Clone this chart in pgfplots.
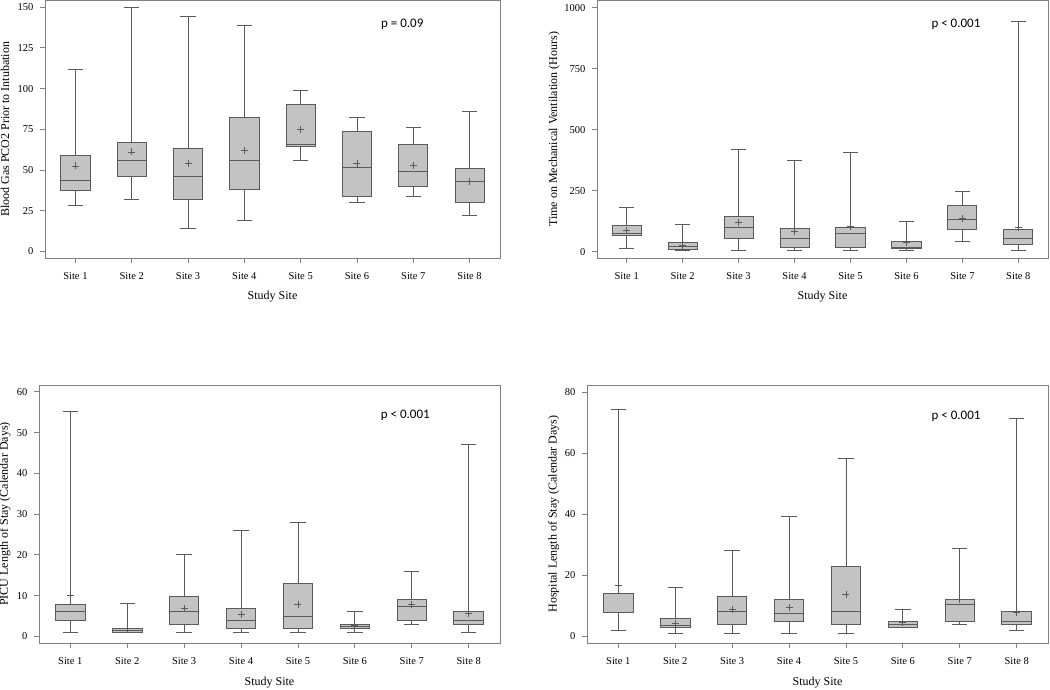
\documentclass[border=0pt]{standalone}
\usepackage{fontspec}
\setmainfont{Liberation Serif}
\newfontfamily\pfont{Carlito}
\usepackage{pgfplots}
\pgfplotsset{compat=1.18}
\usepgfplotslibrary{statistics}
\definecolor{boxfill}{HTML}{C3C3C3}
\definecolor{boxline}{HTML}{5A5A5A}
\definecolor{axline}{HTML}{808080}
\pgfplotsset{
  panel/.style={
    scale only axis, height=258pt,
    axis line style={axline, line width=0.9pt},
    tick style={axline, line width=0.9pt},
    tick align=outside, major tick length=5pt,
    xtick={1,2,3,4,5,6,7,8},
    xticklabels={Site 1,Site 2,Site 3,Site 4,Site 5,Site 6,Site 7,Site 8},
    xtick pos=bottom, ytick pos=left,
    tick label style={font=\fontsize{10.5}{12}\selectfont},
    xticklabel style={yshift=-6pt},
    yticklabel style={xshift=-3pt},
    label style={font=\fontsize{12}{14}\selectfont},
    xlabel={Study Site},
    /pgf/number format/assume math mode=true,
    /pgf/number format/1000 sep={},
    boxplot/draw direction=y,
    boxplot/box extend=0.52,
    boxplot/whisker extend=0.27,
    boxplot/every average/.style={/tikz/mark=+, /tikz/mark size=3.5pt, /tikz/line width=0.9pt},
  },
  bx/.style={draw=boxline, fill=boxfill, line width=0.9pt, solid},
}
\tikzset{pv/.style={anchor=west, font=\pfont\fontsize{13}{15}\selectfont}}
\begin{document}
\begin{tikzpicture}[x=1pt,y=1pt]
\useasboundingbox (0,0) rectangle (1050,690);
% Panel 1
\begin{axis}[panel, at={(45pt,432pt)}, anchor=south west, width=455pt, height=257.5pt,
  xmin=0.46, xmax=8.54, ymin=-4.0, ymax=154.1, ytick={0,25,50,75,100,125,150},
  ylabel={Blood Gas PCO2 Prior to Intubation},
  ylabel style={at={(axis description cs:-0.088,0.5)}, anchor=center},
  xlabel style={at={(axis description cs:0.5,-0.151)}, anchor=center}]
\addplot[bx, boxplot prepared={draw position=1, lower whisker=28, lower quartile=37.4, median=43.9, upper quartile=59.1, upper whisker=112, average=52.5}] coordinates {};
\addplot[bx, boxplot prepared={draw position=2, lower whisker=32, lower quartile=46.2, median=55.8, upper quartile=66.8, upper whisker=150, average=61.1}] coordinates {};
\addplot[bx, boxplot prepared={draw position=3, lower whisker=13.9, lower quartile=32, median=46.2, upper quartile=63, upper whisker=144, average=53.8}] coordinates {};
\addplot[bx, boxplot prepared={draw position=4, lower whisker=19, lower quartile=38, median=55.8, upper quartile=82, upper whisker=139, average=61.9}] coordinates {};
\addplot[bx, boxplot prepared={draw position=5, lower whisker=55.8, lower quartile=64.2, median=66, upper quartile=90, upper whisker=99, average=75}] coordinates {};
\addplot[bx, boxplot prepared={draw position=6, lower whisker=30, lower quartile=34, median=51.7, upper quartile=74, upper whisker=82, average=53.8}] coordinates {};
\addplot[bx, boxplot prepared={draw position=7, lower whisker=34, lower quartile=39.9, median=49, upper quartile=65.8, upper whisker=76, average=52.9}] coordinates {};
\addplot[bx, boxplot prepared={draw position=8, lower whisker=22, lower quartile=30, median=42.9, upper quartile=50.7, upper whisker=86, average=43.1}] coordinates {};
\node[pv] at (rel axis cs:0.731,0.909) {p = 0.09};
\end{axis}
% Panel 2
\begin{axis}[panel, at={(597pt,432pt)}, anchor=south west, width=451pt, height=257.5pt,
  xmin=0.47, xmax=8.53, ymin=-26, ymax=1030, ytick={0,250,500,750,1000},
  ylabel={Time on Mechanical Ventilation (Hours)},
  ylabel style={at={(axis description cs:-0.095,0.5)}, anchor=center},
  xlabel style={at={(axis description cs:0.5,-0.151)}, anchor=center}]
\addplot[bx, boxplot prepared={draw position=1, lower whisker=15, lower quartile=65.6, median=73.8, upper quartile=106.6, upper whisker=180, average=87.4}] coordinates {};
\addplot[bx, boxplot prepared={draw position=2, lower whisker=3, lower quartile=11, median=23, upper quartile=38, upper whisker=112, average=26}] coordinates {};
\addplot[bx, boxplot prepared={draw position=3, lower whisker=4, lower quartile=55, median=98, upper quartile=145, upper whisker=421, average=120}] coordinates {};
\addplot[bx, boxplot prepared={draw position=4, lower whisker=4, lower quartile=19, median=56, upper quartile=97, upper whisker=372, average=81}] coordinates {};
\addplot[bx, boxplot prepared={draw position=5, lower whisker=4, lower quartile=18, median=74, upper quartile=101, upper whisker=408, average=104}] coordinates {};
\addplot[bx, boxplot prepared={draw position=6, lower whisker=5, lower quartile=12, median=16, upper quartile=41, upper whisker=123, average=37}] coordinates {};
\addplot[bx, boxplot prepared={draw position=7, lower whisker=40, lower quartile=90, median=132, upper quartile=188, upper whisker=245, average=138}] coordinates {};
\addplot[bx, boxplot prepared={draw position=8, lower whisker=4, lower quartile=31, median=56, upper quartile=90, upper whisker=945, average=101}] coordinates {};
\node[pv] at (rel axis cs:0.734,0.909) {p < 0.001};
\end{axis}
% Panel 3
\begin{axis}[panel, at={(39pt,47pt)}, anchor=south west, width=461pt, height=258pt,
  xmin=0.45, xmax=8.55, ymin=-1.63, ymax=61.7, ytick={0,10,20,30,40,50,60},
  ylabel={PICU Length of Stay (Calendar Days)},
  ylabel style={at={(axis description cs:-0.074,0.5)}, anchor=center},
  xlabel style={at={(axis description cs:0.5,-0.155)}, anchor=center}]
\addplot[bx, boxplot prepared={draw position=1, lower whisker=1, lower quartile=3.9, median=6, upper quartile=7.9, upper whisker=55.1, average=10}] coordinates {};
\addplot[bx, boxplot prepared={draw position=2, lower whisker=1, lower quartile=1, median=1.5, upper quartile=2, upper whisker=8, average=2}] coordinates {};
\addplot[bx, boxplot prepared={draw position=3, lower whisker=1, lower quartile=2.9, median=6, upper quartile=9.9, upper whisker=20, average=6.9}] coordinates {};
\addplot[bx, boxplot prepared={draw position=4, lower whisker=1, lower quartile=2, median=4, upper quartile=6.9, upper whisker=26, average=5.4}] coordinates {};
\addplot[bx, boxplot prepared={draw position=5, lower whisker=1, lower quartile=2, median=4.9, upper quartile=13.1, upper whisker=28, average=7.9}] coordinates {};
\addplot[bx, boxplot prepared={draw position=6, lower whisker=1, lower quartile=2, median=2.5, upper quartile=2.9, upper whisker=6, average=2.6}] coordinates {};
\addplot[bx, boxplot prepared={draw position=7, lower whisker=2.9, lower quartile=3.9, median=7.4, upper quartile=9, upper whisker=16, average=7.8}] coordinates {};
\addplot[bx, boxplot prepared={draw position=8, lower whisker=1, lower quartile=2.9, median=3.9, upper quartile=6, upper whisker=47, average=5.7}] coordinates {};
\node[pv] at (rel axis cs:0.734,0.881) {p < 0.001};
\end{axis}
% Panel 4
\begin{axis}[panel, at={(587pt,47pt)}, anchor=south west, width=461pt, height=258pt,
  xmin=0.45, xmax=8.55, ymin=-2.18, ymax=82.3, ytick={0,20,40,60,80},
  ylabel={Hospital Length of Stay (Calendar Days)},
  ylabel style={at={(axis description cs:-0.072,0.5)}, anchor=center},
  xlabel style={at={(axis description cs:0.5,-0.155)}, anchor=center}]
\addplot[bx, boxplot prepared={draw position=1, lower whisker=2, lower quartile=7.8, median=7.8, upper quartile=14, upper whisker=74.2, average=16.7}] coordinates {};
\addplot[bx, boxplot prepared={draw position=2, lower whisker=1, lower quartile=2.9, median=3.7, upper quartile=5.9, upper whisker=15.9, average=4.1}] coordinates {};
\addplot[bx, boxplot prepared={draw position=3, lower whisker=1, lower quartile=3.9, median=8, upper quartile=12.9, upper whisker=28, average=8.9}] coordinates {};
\addplot[bx, boxplot prepared={draw position=4, lower whisker=1, lower quartile=4.9, median=7.6, upper quartile=12, upper whisker=39.1, average=9.4}] coordinates {};
\addplot[bx, boxplot prepared={draw position=5, lower whisker=1, lower quartile=3.9, median=8, upper quartile=23, upper whisker=58.1, average=13.6}] coordinates {};
\addplot[bx, boxplot prepared={draw position=6, lower whisker=3, lower quartile=2.9, median=3.9, upper quartile=4.9, upper whisker=8.9, average=4.5}] coordinates {};
\addplot[bx, boxplot prepared={draw position=7, lower whisker=3.9, lower quartile=4.9, median=10.5, upper quartile=12, upper whisker=28.9, average=12}] coordinates {};
\addplot[bx, boxplot prepared={draw position=8, lower whisker=2, lower quartile=3.9, median=4.9, upper quartile=8, upper whisker=71.2, average=7.8}] coordinates {};
\node[pv] at (rel axis cs:0.740,0.877) {p < 0.001};
\end{axis}
\end{tikzpicture}
\end{document}
